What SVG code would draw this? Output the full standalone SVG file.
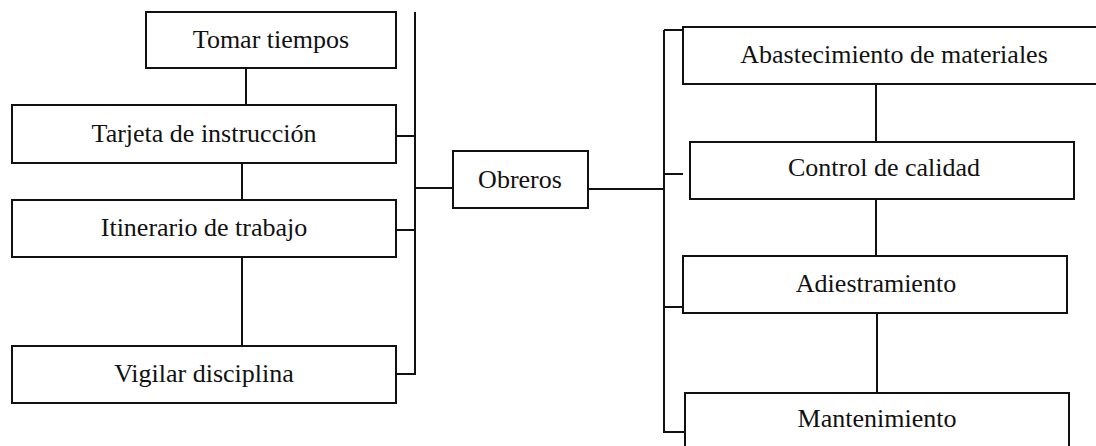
<svg xmlns="http://www.w3.org/2000/svg" width="1096" height="446" viewBox="0 0 1096 446">
  <style>
    .box { fill: #ffffff; stroke: #111111; stroke-width: 2; }
    .link { fill: none; stroke: #111111; stroke-width: 2; }
    .label { font-family: "Liberation Serif", "Times New Roman", serif; font-size: 26px; fill: #111111; text-anchor: middle; }
  </style>
  <rect width="1096" height="446" fill="#ffffff"/>

  <!-- connectors -->
  <g id="connectors" class="link">
    <!-- left bus and its branches -->
    <path d="M415 12 V375"/>
    <path d="M396 136 H415"/>
    <path d="M396 230 H415"/>
    <path d="M396 374 H415"/>
    <path d="M415 188 H453"/>
    <!-- left vertical chain -->
    <path d="M246 68 V105"/>
    <path d="M242 163 V200"/>
    <path d="M242 257 V346"/>
    <!-- right bus and its branches -->
    <path d="M588 189 H664"/>
    <path d="M664 30 V433"/>
    <path d="M664 30 H683"/>
    <path d="M664 174 H683"/>
    <path d="M664 307 H683"/>
    <path d="M664 432 H685"/>
    <!-- right vertical chain -->
    <path d="M876 84 V142"/>
    <path d="M876 199 V256"/>
    <path d="M877 313 V393"/>
  </g>

  <g id="tomar-tiempos">
    <rect class="box" x="146" y="12" width="250" height="56"/>
    <text class="label" x="271" y="48">Tomar tiempos</text>
  </g>
  <g id="tarjeta-instruccion">
    <rect class="box" x="12" y="105" width="384" height="58"/>
    <text class="label" x="204" y="142">Tarjeta de instrucción</text>
  </g>
  <g id="itinerario-trabajo">
    <rect class="box" x="12" y="200" width="384" height="57"/>
    <text class="label" x="204" y="236">Itinerario de trabajo</text>
  </g>
  <g id="vigilar-disciplina">
    <rect class="box" x="12" y="346" width="384" height="57"/>
    <text class="label" x="204" y="382">Vigilar disciplina</text>
  </g>

  <g id="obreros">
    <rect class="box" x="453" y="151" width="135" height="57"/>
    <text class="label" x="520" y="188">Obreros</text>
  </g>

  <g id="abastecimiento-materiales">
    <rect class="box" x="683" y="27" width="420" height="57"/>
    <text class="label" x="894" y="63">Abastecimiento de materiales</text>
  </g>
  <g id="control-calidad">
    <rect class="box" x="690" y="142" width="384" height="57"/>
    <text class="label" x="884" y="176">Control de calidad</text>
  </g>
  <g id="adiestramiento">
    <rect class="box" x="683" y="256" width="384" height="57"/>
    <text class="label" x="876" y="292">Adiestramiento</text>
  </g>
  <g id="mantenimiento">
    <rect class="box" x="685" y="393" width="384" height="60"/>
    <text class="label" x="877" y="427">Mantenimiento</text>
  </g>
</svg>
